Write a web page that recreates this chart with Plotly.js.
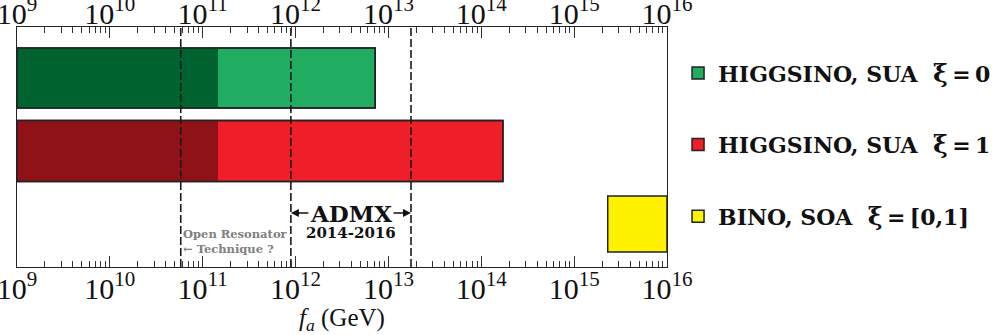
<!DOCTYPE html>
<html>
<head>
<meta charset="utf-8">
<script src="https://cdn.plot.ly/plotly-3.0.1.min.js"></script>
<style>
  html, body {margin: 0; padding: 0; background: #fff;}
  #plot {width: 1000px; height: 335px;}
</style>
</head>
<body>
<div id="plot"></div>
<script>
// rows of the chart (also the legend names)
const rows = ['HIGGSINO, SUA  ξ = 0', 'HIGGSINO, SUA  ξ = 1', 'BINO, SOA  ξ = [0,1]'];
// f_a ranges in GeV
const faMin = [1e9, 1e9, 2.3e15];
const faSplit = [1.46e11, 1.46e11, null];
const faMax = [7.2e12, 1.71e14, 1e16];
// experiment boundaries (GeV)
const openResonatorMax = 5.8e10;
const admxRange = [8.9e11, 1.75e13];

const lightColors = ['#20ad62', '#ee1f29', '#fff200'];
const darkColors = ['#006330', '#8f1218', null];
const barWidth = [0.82, 0.835, 0.77];
const serif = 'Liberation Serif, Times New Roman, serif';
const wideSerif = 'DejaVu Serif, serif';
const edge = {color: '#222', width: 1.5};

let traces = [];
for (let i = 0; i < rows.length; i++) {
    // full bar in the light colour, carries the legend entry
    traces.push({
        type: 'bar', orientation: 'h',
        y: [rows[i]], base: [faMin[i]], x: [faMax[i] - faMin[i]],
        width: barWidth[i],
        marker: {color: lightColors[i], line: edge},
        name: rows[i].replace(' = ', '\u2009=\u2009').replace('ξ', '<span style="font-size:25px">ξ</span>'),
        legendgroup: 'g' + i,
        hoverinfo: 'skip'
    });
    if (faSplit[i]) {
        traces.push({
            type: 'bar', orientation: 'h',
            y: [rows[i]], base: [faMin[i]], x: [faSplit[i] - faMin[i]],
            width: barWidth[i],
            marker: {color: darkColors[i], line: {width: 0}},
            showlegend: false, legendgroup: 'g' + i,
            hoverinfo: 'skip'
        });
        // outline again on top
        traces.push({
            type: 'bar', orientation: 'h',
            y: [rows[i]], base: [faMin[i]], x: [faMax[i] - faMin[i]],
            width: barWidth[i],
            marker: {color: 'rgba(0,0,0,0)', line: edge},
            showlegend: false, legendgroup: 'g' + i,
            hoverinfo: 'skip'
        });
    }
}

const dashedAt = [openResonatorMax, admxRange[0], admxRange[1]];
dashedAt.forEach(function (v) {
    traces.push({
        type: 'scatter', mode: 'lines',
        x: [v, v], y: [0, 1], yaxis: 'y2', xaxis: 'x2',
        line: {color: '#1a1a1a', width: 1.6, dash: '8px,3px'},
        showlegend: false, hoverinfo: 'skip'
    });
});

const axisCommon = {
    type: 'log', range: [9, 16], dtick: 1,
    exponentformat: 'power',
    showgrid: false, zeroline: false,
    showline: true, linecolor: '#222', linewidth: 1.2,
    ticks: 'inside', ticklen: 11, tickcolor: '#333', tickwidth: 1,
    minor: {ticks: 'inside', ticklen: 6, tickcolor: '#333', tickwidth: 1, dtick: 'D1'},
    tickfont: {family: serif, size: 24, color: '#111'},
    ticklabeloverflow: 'allow',
    fixedrange: true
};

const admxMid = (Math.log10(admxRange[0]) + Math.log10(admxRange[1])) / 2;

let layout = {
    width: 1000, height: 335,
    margin: {l: 17, r: 333, t: 27, b: 68, autoexpand: false},
    paper_bgcolor: '#fff', plot_bgcolor: '#fff',
    barmode: 'overlay',
    showlegend: true,
    xaxis: Object.assign({}, axisCommon, {
        side: 'bottom', ticklabelstandoff: -4,
        title: {text: '<i>f</i><sub><i>a</i></sub> (GeV)', font: {family: serif, size: 25, color: '#111'}, standoff: 13}
    }),
    xaxis2: Object.assign({}, axisCommon, {side: 'top', overlaying: 'x', ticklabelstandoff: -9}),
    yaxis: {
        type: 'category', range: [2.589, -0.699],
        showticklabels: false, ticks: '', showgrid: false, zeroline: false,
        showline: true, mirror: true, linecolor: '#222', linewidth: 1.2,
        fixedrange: true
    },
    yaxis2: {overlaying: 'y', range: [0, 1], visible: false, fixedrange: true},
    legend: {
        x: 1.017, xanchor: 'left', y: 0.895, yanchor: 'top',
        traceorder: 'grouped', tracegroupgap: 40,
        font: {family: wideSerif, size: 22, color: '#111', weight: 'bold'},
        bgcolor: 'rgba(0,0,0,0)'
    },
    annotations: [
        {
            xref: 'x', yref: 'paper', x: admxMid, y: 0.225, yanchor: 'middle',
            text: '<b>ADMX</b>', showarrow: false,
            font: {family: wideSerif, size: 23, color: '#111'}
        },
        {
            xref: 'x', yref: 'paper', x: Math.log10(admxRange[0]), y: 0.225,
            text: '', showarrow: true, ax: 19, ay: 0,
            arrowhead: 2, arrowsize: 1, arrowwidth: 1.6, arrowcolor: '#111'
        },
        {
            xref: 'x', yref: 'paper', x: Math.log10(admxRange[1]), y: 0.225,
            text: '', showarrow: true, ax: -19, ay: 0,
            arrowhead: 2, arrowsize: 1, arrowwidth: 1.6, arrowcolor: '#111'
        },
        {
            xref: 'x', yref: 'paper', x: admxMid, y: 0.14, yanchor: 'middle',
            text: '<b>2014-2016</b>', showarrow: false,
            font: {family: wideSerif, size: 15, color: '#111'}
        },
        {
            xref: 'x', yref: 'paper', x: Math.log10(openResonatorMax), xanchor: 'left', xshift: 0, y: 0.105,
            yanchor: 'middle', align: 'left',
            text: '<b>Open Resonator<br>← Technique ?</b>', showarrow: false,
            font: {family: wideSerif, size: 11.5, color: '#808080'}
        }
    ]
};

Plotly.newPlot('plot', traces, layout, {displayModeBar: false, staticPlot: true});
</script>
</body>
</html>
